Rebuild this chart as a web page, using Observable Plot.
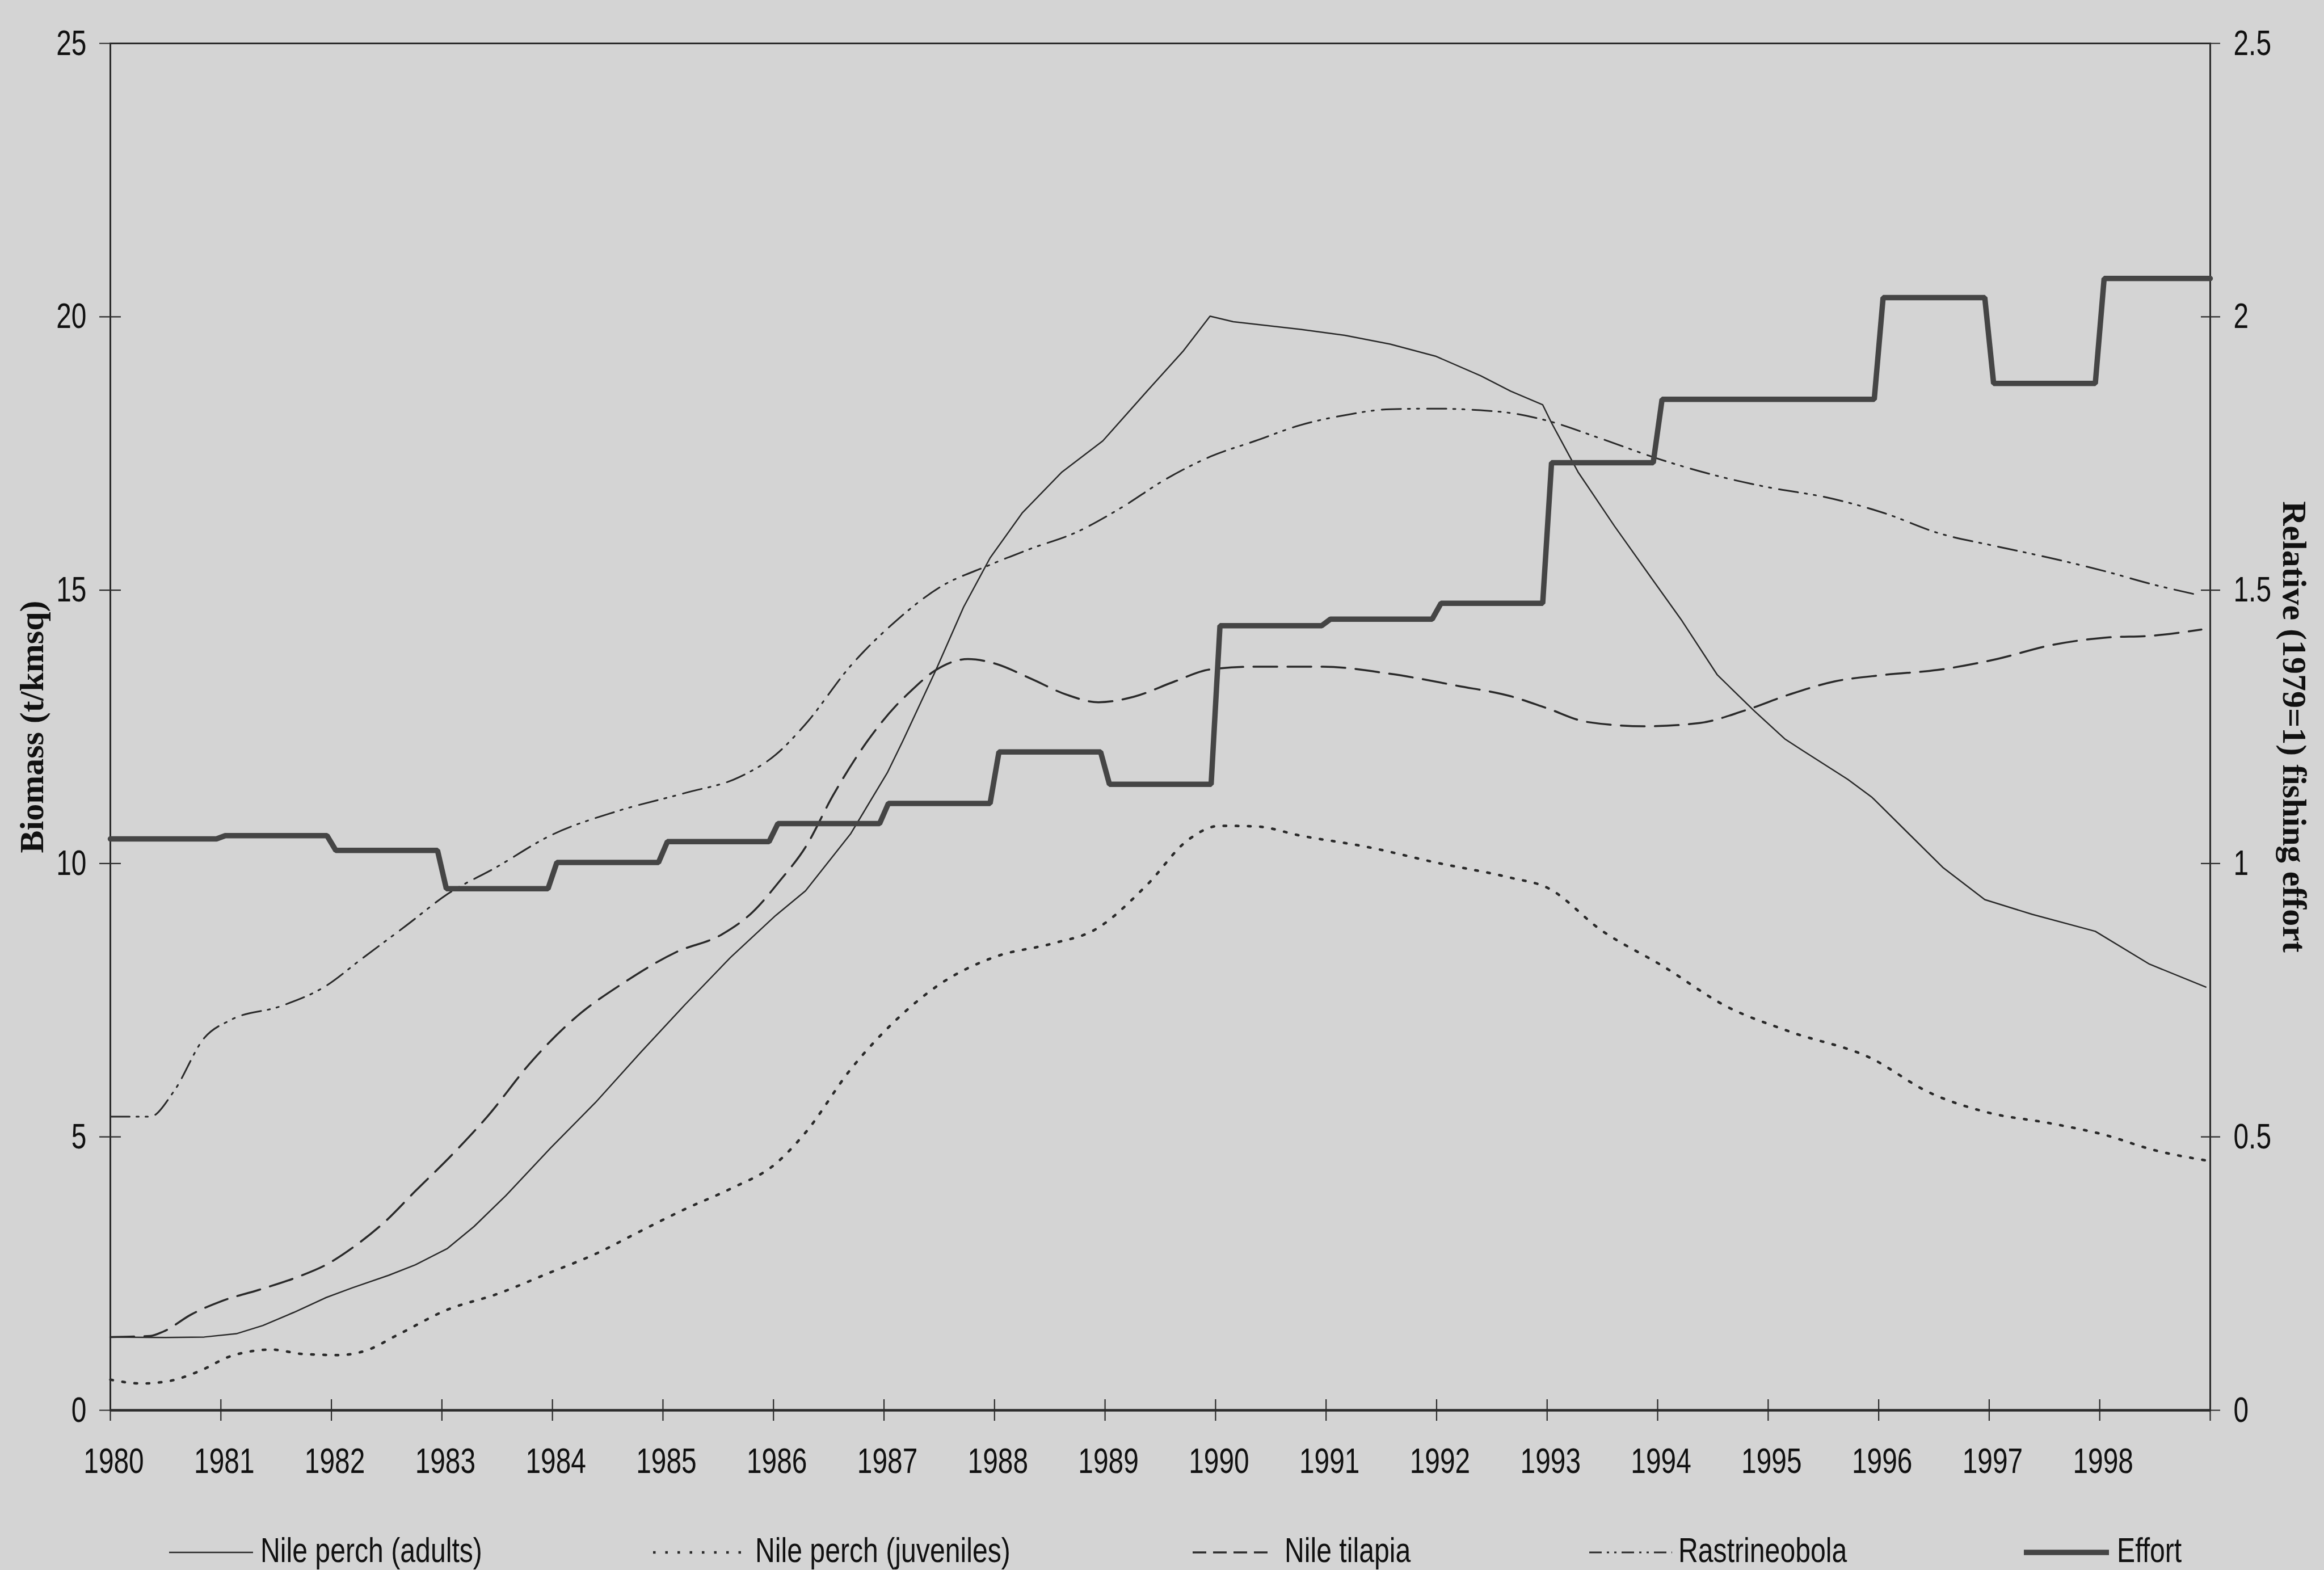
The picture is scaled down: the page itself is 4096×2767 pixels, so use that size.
<!DOCTYPE html>
<html>
<head>
<meta charset="utf-8">
<script src="https://cdn.jsdelivr.net/npm/d3@7"></script>
<script src="https://cdn.jsdelivr.net/npm/@observablehq/plot@0.6"></script>
<style>
  html, body { margin: 0; padding: 0; background: #d4d4d4; }
  #chart { position: relative; width: 4096px; height: 2767px; overflow: hidden; background: #d4d4d4; }
  #chart svg { display: block; overflow: visible; }
</style>
</head>
<body>
<div id="chart"></div>
<script>
// ---------------- DATA ----------------
const tickYears = d3.range(1980, 2000);          // tick marks 1980 … 1999
const labelYears = d3.range(1980, 1999);         // labelled years 1980 … 1998
const biomassTicks = [0, 5, 10, 15, 20, 25];     // left axis (t/km sq)
const effortTicks = [0, 0.5, 1, 1.5, 2, 2.5];    // right axis (relative effort)

const seriesNames = ["Nile perch (adults)", "Nile perch (juveniles)", "Nile tilapia", "Rastrineobola", "Effort"];

// [year, biomass t/km sq]
const nilePerchAdults = [
  [1980.00,1.34],[1980.50,1.33],[1980.85,1.34],[1981.14,1.40],[1981.38,1.55],[1981.66,1.79],[1981.95,2.06],
  [1982.19,2.24],[1982.52,2.47],[1982.76,2.66],[1983.05,2.96],[1983.29,3.36],[1983.58,3.93],[1983.98,4.79],
  [1984.39,5.63],[1984.80,6.55],[1985.20,7.42],[1985.61,8.28],[1986.02,9.05],[1986.29,9.50],[1986.70,10.55],
  [1987.03,11.66],[1987.17,12.24],[1987.47,13.54],[1987.72,14.69],[1987.96,15.59],[1988.25,16.41],[1988.61,17.16],
  [1988.98,17.73],[1989.38,18.64],[1989.71,19.38],[1989.95,20.01],[1990.16,19.91],[1990.77,19.77],[1991.17,19.66],
  [1991.58,19.50],[1991.99,19.28],[1992.40,18.92],[1992.67,18.64],[1992.96,18.39],[1993.04,18.06],[1993.28,17.16],
  [1993.61,16.17],[1993.93,15.26],[1994.22,14.44],[1994.54,13.45],[1994.87,12.80],[1995.15,12.28],[1995.31,12.07],
  [1995.72,11.54],[1995.94,11.21],[1996.29,10.51],[1996.58,9.93],[1996.96,9.34],[1997.39,9.07],[1997.96,8.76],
  [1998.45,8.16],[1998.96,7.74]
];

const nilePerchJuveniles = [
  [1980.00,0.56],[1980.28,0.49],[1980.52,0.53],[1980.81,0.72],[1981.09,0.99],[1981.46,1.11],[1981.74,1.03],
  [1982.07,1.01],[1982.31,1.09],[1982.60,1.38],[1983.05,1.84],[1983.49,2.12],[1983.98,2.52],[1984.39,2.86],
  [1984.80,3.28],[1985.20,3.68],[1985.61,4.05],[1986.02,4.51],[1986.29,5.08],[1986.70,6.24],[1987.11,7.14],
  [1987.51,7.80],[1988.00,8.29],[1988.53,8.54],[1988.90,8.78],[1989.38,9.61],[1989.75,10.43],[1990.04,10.69],
  [1990.36,10.68],[1990.77,10.51],[1991.38,10.30],[1991.99,10.02],[1992.67,9.74],[1993.00,9.56],[1993.49,8.78],
  [1994.05,8.12],[1994.62,7.39],[1995.19,6.93],[1995.93,6.44],[1996.45,5.82],[1996.98,5.45],[1997.55,5.25],
  [1998.04,5.04],[1998.49,4.76],[1998.96,4.57]
];

const nileTilapia = [
  [1980.00,1.34],[1980.36,1.36],[1980.48,1.44],[1980.73,1.75],[1981.01,2.00],[1981.34,2.20],[1981.71,2.45],
  [1981.95,2.66],[1982.23,3.03],[1982.48,3.44],[1982.76,4.01],[1983.09,4.67],[1983.41,5.37],[1983.82,6.40],
  [1984.23,7.22],[1984.63,7.80],[1985.12,8.38],[1985.53,8.70],[1985.81,9.11],[1986.06,9.69],[1986.29,10.30],
  [1986.54,11.25],[1986.85,12.24],[1987.11,12.89],[1987.23,13.13],[1987.47,13.54],[1987.76,13.74],[1988.00,13.66],
  [1988.33,13.38],[1988.65,13.09],[1988.94,12.95],[1989.26,13.05],[1989.63,13.33],[1989.95,13.55],[1990.36,13.60],
  [1990.97,13.60],[1991.58,13.47],[1992.19,13.25],[1992.67,13.06],[1993.00,12.84],[1993.36,12.59],[1993.89,12.51],
  [1994.38,12.57],[1994.79,12.80],[1995.19,13.09],[1995.60,13.33],[1996.05,13.45],[1996.53,13.54],[1997.07,13.74],
  [1997.55,13.99],[1998.04,14.13],[1998.49,14.17],[1998.92,14.28]
];

const rastrineobola = [
  [1980.00,5.37],[1980.36,5.37],[1980.57,5.82],[1980.85,6.81],[1981.09,7.14],[1981.54,7.39],[1981.95,7.76],
  [1982.27,8.25],[1982.68,8.87],[1983.05,9.44],[1983.49,9.93],[1983.98,10.51],[1984.59,10.96],[1985.20,11.29],
  [1985.69,11.58],[1986.02,11.99],[1986.29,12.55],[1986.70,13.62],[1987.11,14.44],[1987.51,15.06],[1987.92,15.43],
  [1988.33,15.76],[1988.73,16.05],[1989.14,16.50],[1989.55,17.03],[1989.95,17.44],[1990.36,17.73],[1990.77,18.02],
  [1991.17,18.20],[1991.58,18.31],[1991.99,18.32],[1992.40,18.29],[1992.67,18.24],[1993.00,18.10],[1993.49,17.77],
  [1994.01,17.40],[1994.50,17.11],[1995.03,16.87],[1995.52,16.70],[1996.05,16.41],[1996.53,16.05],[1997.07,15.80],
  [1997.55,15.59],[1998.04,15.35],[1998.49,15.10],[1998.85,14.93]
];

// Relative (1979=1) fishing effort, one level per year
const effortYears = d3.range(1980, 1999);
const effortValues = [1.045, 1.051, 1.024, 0.954, 1.002, 1.040, 1.073, 1.110, 1.204, 1.145,
                      1.435, 1.447, 1.476, 1.733, 1.849, 1.849, 2.035, 1.878, 2.070];

// ---------------- BUILD ----------------
const EFFORT_SCALE = 10; // right axis 2.5 ↔ left axis 25
const toRows = arr => arr.map(([year, value]) => ({year, value}));

// step line for effort (each annual level, with short ramps at the year change)
const effortSteps = [];
effortYears.forEach((yr, i) => {
  const v = effortValues[i];
  effortSteps.push({year: i === 0 ? yr : yr + 0.04, effort: v});
  effortSteps.push({year: i === effortYears.length - 1 ? yr + 1 : yr + 0.96, effort: v});
});

const INK = "#2b2b2b";
const sans = "'Liberation Sans Narrow','Arial Narrow','Liberation Sans',Arial,sans-serif";
const serif = "'Liberation Serif','Times New Roman',serif";
const NARROW = 0.76; // horizontal condensing of the sans text (reference uses a narrow face)

const styles = {
  adults:    {stroke: "#2a2a2a", strokeWidth: 2.5},
  juveniles: {stroke: "#2a2a2a", strokeWidth: 4.5, strokeDasharray: "4.5,17"},
  tilapia:   {stroke: "#2a2a2a", strokeWidth: 3.5, strokeDasharray: "42,18"},
  rastri:    {stroke: "#2a2a2a", strokeWidth: 3, strokeDasharray: "34,12,4,12,4,14"},
  effort:    {stroke: "#454545", strokeWidth: 9.5}
};

const W = 4096, H = 2640, PAGE_H = 2767;
const chart = Plot.plot({
  width: W,
  height: H,
  marginLeft: 194,
  marginRight: 201,
  marginTop: 76,
  marginBottom: H - 2485,
  style: {background: "transparent", fontFamily: sans, fontSize: "63px", color: "#1a1a1a", overflow: "visible"},
  x: {domain: [1980, 1999]},
  y: {domain: [0, 25]},
  marks: [
    Plot.frame({stroke: INK, strokeWidth: 3}),
    Plot.ruleY([0], {stroke: INK, strokeWidth: 4.5}),
    // crossing tick marks
    Plot.axisX({ticks: tickYears, tickSize: 38, dy: -19, fill: "none", label: null, stroke: INK, strokeWidth: 2.2}),
    Plot.axisY({ticks: biomassTicks, tickSize: 38, dx: 19, fill: "none", label: null, stroke: INK, strokeWidth: 2.2}),
    Plot.axisY({anchor: "right", ticks: biomassTicks, tickSize: 34, dx: -17, fill: "none", label: null, stroke: INK, strokeWidth: 2.2}),
    // tick labels
    Plot.axisX({ticks: labelYears, tickSize: 0, tickPadding: 66, dx: 6, tickFormat: d => String(d), label: null, fill: "#111"}),
    Plot.axisY({ticks: biomassTicks, tickSize: 0, tickPadding: 42, tickFormat: d => String(d), label: null, fill: "#111"}),
    Plot.axisY({anchor: "right", ticks: biomassTicks, tickSize: 0, tickPadding: 41,
                tickFormat: d => String(d / EFFORT_SCALE), label: null, fill: "#111"}),
    // axis titles
    Plot.text(["Biomass (t/kmsq)"], {frameAnchor: "left", rotate: -90, dx: -119, lineAnchor: "bottom",
      textAnchor: "middle", fontFamily: serif, fontWeight: "bold", fontSize: 60, fill: "#111"}),
    Plot.text(["Relative (1979=1) fishing effort"], {frameAnchor: "right", rotate: 90, dx: 128, lineAnchor: "bottom",
      textAnchor: "middle", fontFamily: serif, fontWeight: "bold", fontSize: 60, fill: "#111"}),
    // series
    Plot.line(toRows(rastrineobola), {x: "year", y: "value", curve: "monotone-x", ...styles.rastri}),
    Plot.line(toRows(nileTilapia), {x: "year", y: "value", curve: "monotone-x", ...styles.tilapia}),
    Plot.line(toRows(nilePerchJuveniles), {x: "year", y: "value", curve: "monotone-x", ...styles.juveniles}),
    Plot.line(toRows(nilePerchAdults), {x: "year", y: "value", curve: "linear", ...styles.adults}),
    Plot.line(effortSteps, {x: "year", y: d => d.effort * EFFORT_SCALE, curve: "linear",
      strokeLinejoin: "miter", ...styles.effort})
  ]
});
document.getElementById("chart").appendChild(chart);

// condense the tick labels horizontally (narrow face of the reference)
d3.select(chart).selectAll('g[aria-label$="tick label"] text').each(function() {
  const t = this.getAttribute("transform");
  if (t) {
    this.setAttribute("transform", t + ` scale(${NARROW},1)`);
  } else {
    const x = +this.getAttribute("x") || 0;
    this.removeAttribute("x");
    this.setAttribute("transform", `translate(${x},0) scale(${NARROW},1)`);
  }
});

// ---------------- LEGEND (below the plot) ----------------
const LINE_Y = 2736 - H, TEXT_Y = 2753 - H;
const legendItems = [
  {name: seriesNames[0], style: styles.adults,    x0: 298,  x1: 446,  tx: 459},
  {name: seriesNames[1], style: styles.juveniles, x0: 1151, x1: 1317, tx: 1331},
  {name: seriesNames[2], style: {...styles.tilapia, strokeDasharray: "24,12"}, x0: 2102, x1: 2242, tx: 2264},
  {name: seriesNames[3], style: {...styles.rastri, strokeDasharray: "22,9,4,9,4,9"}, x0: 2801, x1: 2947, tx: 2958},
  {name: seriesNames[4], style: styles.effort,    x0: 3567, x1: 3717, tx: 3731}
];
const legend = d3.select("#chart").append("svg")
  .attr("width", W).attr("height", PAGE_H - H)
  .style("position", "absolute").style("left", "0px").style("top", H + "px");
const g = legend.selectAll("g").data(legendItems).join("g");
g.append("line")
  .attr("x1", d => d.x0).attr("x2", d => d.x1).attr("y1", LINE_Y).attr("y2", LINE_Y)
  .attr("stroke", d => d.style.stroke)
  .attr("stroke-width", d => d.style.strokeWidth)
  .attr("stroke-dasharray", d => d.style.strokeDasharray || null);
g.append("text")
  .attr("transform", d => `translate(${d.tx},${TEXT_Y}) scale(0.79,1)`)
  .attr("font-family", sans).attr("font-size", 61).attr("fill", "#111")
  .text(d => d.name);
</script>
</body>
</html>
